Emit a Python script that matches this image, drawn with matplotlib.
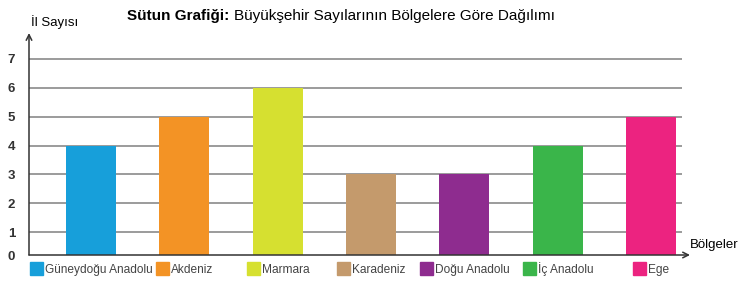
import matplotlib
matplotlib.use("Agg")
import matplotlib.pyplot as plt
from matplotlib.patches import Rectangle

# data
regions = ['Güneydoğu Anadolu', 'Akdeniz', 'Marmara', 'Karadeniz',
           'Doğu Anadolu', 'İç Anadolu', 'Ege']
counts = [4, 5, 6, 3, 3, 4, 5]
colors = ['#179FDA', '#F39325', '#D6E030', '#C49A6C',
          '#8E2C8F', '#3AB54A', '#EC2380']
yticks = [1, 2, 3, 4, 5, 6, 7]

plt.rcParams['font.family'] = ['Liberation Sans', 'DejaVu Sans']

W, H = 751, 283
fig = plt.figure(figsize=(W / 100, H / 100), dpi=100)

def px(x0, y0, x1, y1):
    # pixel box (top-left origin) -> figure fraction
    return [x0 / W, 1 - y1 / H, (x1 - x0) / W, (y1 - y0) / H]

ax = fig.add_axes(px(29, 33, 690, 255))
ymin, ymax = 0.21, 7.9
xmin, xmax = -0.665, 6.42
ax.set_xlim(xmin, xmax)
ax.set_ylim(ymin, ymax)
for s in ax.spines.values():
    s.set_visible(False)

# gridlines
ax.hlines(yticks, xmin, 6.33, colors='#8a8a8a', lw=1.2, zorder=1)

x = range(len(regions))
ax.bar(x, counts, width=0.536, color=colors, zorder=2)

# axes with arrows
ax.annotate('', xy=(0, 1), xytext=(0, 0), xycoords='axes fraction',
            arrowprops=dict(arrowstyle='->', color='#333333', lw=1.1,
                            shrinkA=0, shrinkB=0, mutation_scale=10))
ax.annotate('', xy=(1, 0), xytext=(0, 0), xycoords='axes fraction',
            arrowprops=dict(arrowstyle='->', color='#333333', lw=1.1,
                            shrinkA=0, shrinkB=0, mutation_scale=10))

ax.set_xticks([])
ax.set_yticks([ymin] + yticks)
ax.set_yticklabels(['0'] + [str(v) for v in yticks])
ax.tick_params(axis='y', length=0, pad=10, labelsize=9.5, labelcolor='#333333')
for t in ax.get_yticklabels():
    t.set_fontweight('bold')

# titles and axis names
t1 = fig.text(127 / W, 1 - 20 / H, 'Sütun Grafiği:', fontsize=11, fontweight='bold',
              va='baseline', ha='left')
fig.canvas.draw()
bb = t1.get_window_extent()
fig.text(bb.x1 / W + 5 / W, 1 - 20 / H, 'Büyükşehir Sayılarının Bölgelere Göre Dağılımı',
         fontsize=11, va='baseline', ha='left')
fig.text(31 / W, 1 - 26 / H, 'İl Sayısı', fontsize=9.5, va='baseline', ha='left')
fig.text(690 / W, 1 - 248 / H, 'Bölgeler', fontsize=9.5, va='baseline', ha='left')

# legend
leg_x = [30, 156, 247, 337, 420, 523, 633]
for lx, name, c in zip(leg_x, regions, colors):
    fig.patches.append(Rectangle((lx / W, 1 - 275 / H), 13 / W, 13 / H,
                                 transform=fig.transFigure, color=c))
    fig.text((lx + 15) / W, 1 - 273 / H, name, fontsize=8.6, color='#444444',
             va='baseline', ha='left')

fig.savefig('out.png', dpi=100)
